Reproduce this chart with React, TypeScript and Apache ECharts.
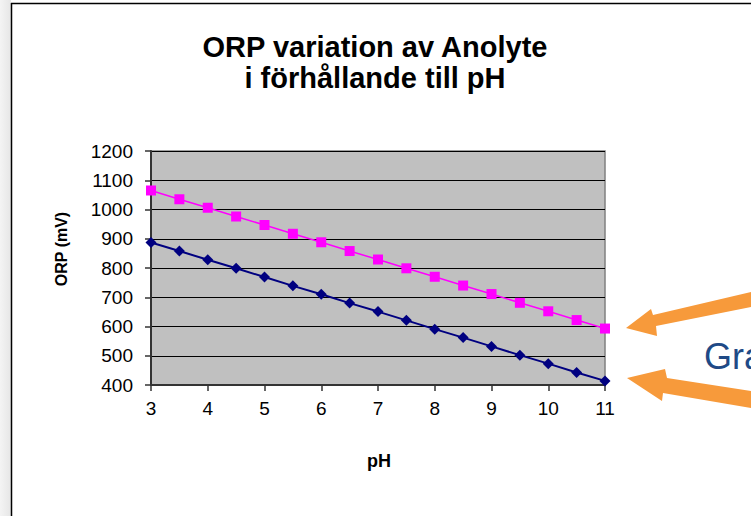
import React, { useEffect, useRef } from "react";
import * as echarts from "echarts";

const pH = [3, 3.5, 4, 4.5, 5, 5.5, 6, 6.5, 7, 7.5, 8, 8.5, 9, 9.5, 10, 10.5, 11];
const orpUpper = [1065, 1035, 1006, 976, 947, 917, 888, 858, 829, 799, 770, 740, 711, 681, 652, 622, 593];
const orpLower = [887, 858, 828, 799, 769, 739, 710, 680, 651, 621, 591, 562, 532, 502, 473, 443, 414];
const titleLines = ["ORP variation av Anolyte", "i förhållande till pH"];
const yName = "ORP (mV)";
const xName = "pH";
const sideText = "Gra";

const FONT = 'Arial, "Liberation Sans", Helvetica, sans-serif';

export default function App() {
  const ref = useRef<HTMLDivElement>(null);
  useEffect(() => {
    if (!ref.current) return;
    const chart = echarts.init(ref.current, null, { renderer: "svg" });
    chart.setOption({
      animation: false,
      backgroundColor: "#ffffff",
      grid: {
        left: 151,
        right: 146,
        top: 151,
        bottom: 131,
        show: true,
        backgroundColor: "#c0c0c0",
        borderColor: "#808080",
        borderWidth: 1.5,
      },
      xAxis: {
        type: "value",
        min: 3,
        max: 11,
        interval: 1,
        axisLine: { show: true, lineStyle: { color: "#333333", width: 2 } },
        axisTick: { show: true, length: 6, lineStyle: { color: "#333333", width: 1.5 } },
        axisLabel: { color: "#000", fontSize: 19, fontFamily: FONT, margin: 14, formatter: (v: number) => String(v) },
        splitLine: { show: false },
      },
      yAxis: {
        type: "value",
        min: 400,
        max: 1200,
        interval: 100,
        axisLine: { show: true, lineStyle: { color: "#333333", width: 2 } },
        axisTick: { show: true, length: 6, lineStyle: { color: "#333333", width: 1.5 } },
        axisLabel: { color: "#000", fontSize: 19, fontFamily: FONT, margin: 18, formatter: (v: number) => String(v) },
        splitLine: { show: true, lineStyle: { color: "#000000", width: 1.2 } },
      },
      series: [
        {
          type: "line",
          name: "Övre",
          data: pH.map((x, i) => [x, orpUpper[i]]),
          symbol: "rect",
          symbolSize: 10,
          lineStyle: { color: "#ff00ff", width: 1.5 },
          itemStyle: { color: "#ff00ff" },
        },
        {
          type: "line",
          name: "Nedre",
          data: pH.map((x, i) => [x, orpLower[i]]),
          symbol: "diamond",
          symbolSize: 11,
          lineStyle: { color: "#000080", width: 2 },
          itemStyle: { color: "#000080" },
        },
      ],
      graphic: [
        {
          type: "rect",
          shape: { x: 0, y: 0, width: 11, height: 516 },
          style: {
            fill: new echarts.graphic.LinearGradient(0, 0, 1, 0, [
              { offset: 0, color: "#f4f4f4" },
              { offset: 1, color: "#e6e6e6" },
            ]),
          },
        },
        {
          type: "line",
          shape: { x1: 11.5, y1: 3, x2: 11.5, y2: 516 },
          style: { stroke: "#000", lineWidth: 1.5 },
        },
        {
          type: "line",
          shape: { x1: 11, y1: 3.5, x2: 751, y2: 3.5 },
          style: { stroke: "#000", lineWidth: 1.5 },
        },
        {
          type: "text",
          x: 375,
          y: 47,
          style: {
            text: titleLines[0],
            fill: "#000",
            font: `bold 29px ${FONT}`,
            align: "center",
            verticalAlign: "middle",
          },
        },
        {
          type: "text",
          x: 375,
          y: 78,
          style: {
            text: titleLines[1],
            fill: "#000",
            font: `bold 29px ${FONT}`,
            align: "center",
            verticalAlign: "middle",
          },
        },
        {
          type: "text",
          x: 61,
          y: 249,
          rotation: Math.PI / 2,
          style: {
            text: yName,
            fill: "#000",
            font: `bold 16px ${FONT}`,
            align: "center",
            verticalAlign: "middle",
          },
        },
        {
          type: "text",
          x: 379,
          y: 461,
          style: {
            text: xName,
            fill: "#000",
            font: `bold 18px ${FONT}`,
            align: "center",
            verticalAlign: "middle",
          },
        },
        {
          type: "polygon",
          shape: {
            points: [
              [626, 328],
              [651, 309],
              [653, 315],
              [751, 292],
              [751, 307],
              [656, 326],
              [657, 336],
            ],
          },
          style: { fill: "#f79a3b" },
        },
        {
          type: "polygon",
          shape: {
            points: [
              [627, 378],
              [665, 369],
              [667, 378],
              [751, 391],
              [751, 408],
              [663, 393],
              [662, 401],
            ],
          },
          style: { fill: "#f79a3b" },
        },
        {
          type: "text",
          x: 704,
          y: 356,
          style: {
            text: sideText,
            fill: "#1f4a86",
            font: `36px ${FONT}`,
            align: "left",
            verticalAlign: "middle",
          },
        },
      ],
    });
    return () => chart.dispose();
  }, []);
  return (
    <div
      ref={ref}
      style={{ position: "fixed", left: 0, top: 0, width: 751, height: 516 }}
    />
  );
}
